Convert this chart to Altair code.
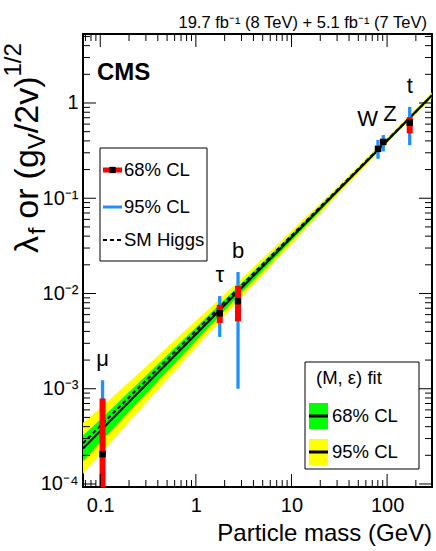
import altair as alt
import pandas as pd

# ---------------- data ----------------
particles = ["μ", "τ", "b", "W", "Z", "t"]
mass = [0.1057, 1.777, 2.76, 80.4, 91.19, 172.5]
coupling = [2.06e-4, 6.2e-3, 8.3e-3, 0.33, 0.39, 0.62]
cl68_lo = [1e-5, 4.9e-3, 5.1e-3, 0.315, 0.37, 0.48]
cl68_hi = [7.9e-4, 7.6e-3, 1.2e-2, 0.345, 0.41, 0.71]
cl95_lo = [1e-5, 3.5e-3, 1.0e-3, 0.26, 0.31, 0.36]
cl95_hi = [1.23e-3, 9.4e-3, 1.68e-2, 0.41, 0.46, 0.91]
label_align = ["center", "center", "center", "right", "left", "center"]

band_mass = [0.066, 0.1, 0.3, 1, 3, 10, 30, 100, 295]
fit_central = [2.36e-4, 3.60e-4, 1.10e-3, 3.73e-3, 1.140e-2, 3.87e-2, 0.1182, 0.4016, 1.205]
fit68_lo = [1.73e-4, 2.74e-4, 8.84e-4, 3.18e-3, 1.016e-2, 3.57e-2, 0.1124, 0.388, 1.164]
fit68_hi = [3.22e-4, 4.75e-4, 1.368e-3, 4.39e-3, 1.279e-2, 4.20e-2, 0.1244, 0.4157, 1.248]
fit95_lo = [1.27e-4, 2.07e-4, 7.10e-4, 2.705e-3, 9.06e-3, 3.30e-2, 0.1066, 0.375, 1.125]
fit95_hi = [4.40e-4, 6.27e-4, 1.703e-3, 5.16e-3, 1.435e-2, 4.55e-2, 0.1312, 0.4303, 1.291]

sm_mass = [0.066, 295]
sm_lambda = [2.68e-4, 1.198]

x_major = [0.1, 1, 10, 100]
y_major = [1e-4, 1e-3, 1e-2, 1e-1, 1]

# ---------------- layout ----------------
W, H = 349, 453
LEFT, TOP = 83, 34
FONT = "Liberation Sans, Arial"
BLUE = "#1e90ff"

def px(cx):
    return cx - LEFT

def py(cy):
    return cy - TOP

xscale = alt.Scale(type="log", domain=[0.066, 295], nice=False, zero=False)
yscale = alt.Scale(type="log", domain=[9.3e-5, 5.3], nice=False, zero=False)

x_axis = alt.Axis(values=x_major, ticks=False, domain=False, grid=False, title=None,
                  labelExpr="datum.value < 0.5 ? '0.1' : format(datum.value, 'd')",
                  labelFont=FONT, labelFontSize=20, labelColor="black", labelPadding=8,
                  labelFlush=False)
y_axis = alt.Axis(values=y_major, ticks=False, domain=False, grid=False, title=None,
                  labelExpr="datum.value > 0.5 ? '1' : datum.value > 0.05 ? '10⁻¹' : datum.value > 0.005 ? '10⁻²' : datum.value > 0.0005 ? '10⁻³' : '10⁻⁴'",
                  labelFont=FONT, labelFontSize=20, labelColor="black", labelPadding=5,
                  labelFlush=False)

band = pd.DataFrame({"m": band_mass, "c": fit_central, "g_lo": fit68_lo, "g_hi": fit68_hi,
                     "y_lo": fit95_lo, "y_hi": fit95_hi})
pts = pd.DataFrame({"p": particles, "m": mass, "v": coupling, "r_lo": cl68_lo, "r_hi": cl68_hi,
                    "b_lo": cl95_lo, "b_hi": cl95_hi, "al": label_align})
sm = pd.DataFrame({"m": sm_mass, "v": sm_lambda})
one = pd.DataFrame({"a": [0]})

def X(field):
    return alt.X(field, type="quantitative", scale=xscale, axis=x_axis)

def Y(field):
    return alt.Y(field, type="quantitative", scale=yscale, axis=y_axis)

yellow = alt.Chart(band).mark_area(color="#ffff00", clip=True, opacity=1).encode(
    x=X("m"), y=Y("y_lo"), y2="y_hi")
green = alt.Chart(band).mark_area(color="#00ff00", clip=True, opacity=1).encode(
    x=X("m"), y=Y("g_lo"), y2="g_hi")
fitline = alt.Chart(band).mark_line(color="black", strokeWidth=2, clip=True).encode(
    x=X("m"), y=Y("c"))
smline = alt.Chart(sm).mark_line(color="black", strokeWidth=2, strokeDash=[4, 3], clip=True).encode(
    x=X("m"), y=Y("v"))
blue = alt.Chart(pts).mark_rule(color=BLUE, strokeWidth=3.3, clip=True).encode(
    x=X("m"), y=Y("b_lo"), y2="b_hi")
red = alt.Chart(pts).mark_rule(color="#ff0000", strokeWidth=6, clip=True).encode(
    x=X("m"), y=Y("r_lo"), y2="r_hi")
sq = alt.Chart(pts).mark_square(color="black", size=42, opacity=1, clip=True).encode(
    x=X("m"), y=Y("v"))

label_layers = []
for al in ["center", "right", "left"]:
    label_layers.append(
        alt.Chart(pts).transform_filter(alt.datum.al == al).mark_text(
            font=FONT, fontSize=22, color="black", align=al, baseline="bottom", dy=-9
        ).encode(x=X("m"), y=Y("b_hi"), text="p:N"))

# inward ticks on all four sides
def ticks(vals, channel, side, length):
    df = pd.DataFrame({"v": vals})
    base = alt.Chart(df).mark_rule(color="black", strokeWidth=1)
    if channel == "x":
        if side == "bottom":
            return base.encode(x=X("v"), y=alt.value(H), y2=alt.value(H - length))
        return base.encode(x=X("v"), y=alt.value(0), y2=alt.value(length))
    if side == "left":
        return base.encode(y=Y("v"), x=alt.value(0), x2=alt.value(length))
    return base.encode(y=Y("v"), x=alt.value(W), x2=alt.value(W - length))

x_minor = [k * d for d in [0.01, 0.1, 1, 10, 100] for k in range(2, 10)
           if 0.066 < k * d < 295 and k * d not in x_major]
y_minor = [k * d for d in [1e-5, 1e-4, 1e-3, 1e-2, 1e-1, 1] for k in range(2, 10)
           if 9.3e-5 < k * d < 5.3]
tick_layers = []
for side in ["bottom", "top"]:
    tick_layers.append(ticks(x_major, "x", side, 13))
    tick_layers.append(ticks(x_minor, "x", side, 7))
for side in ["left", "right"]:
    tick_layers.append(ticks(y_major, "y", side, 13))
    tick_layers.append(ticks(y_minor, "y", side, 7))

# ---------------- annotations ----------------
def text(t, x, y, size, align="left", baseline="alphabetic", weight="normal", angle=0):
    kw = dict(font=FONT, fontSize=size, align=align, baseline=baseline, fontWeight=weight, color="black")
    if angle:
        kw["angle"] = angle
    return alt.Chart(one).mark_text(**kw).encode(x=alt.value(x), y=alt.value(y), text=alt.value(t))

def rule(x1, x2, y, color, width, dash=None):
    kw = dict(color=color, strokeWidth=width)
    if dash:
        kw["strokeDash"] = dash
    return alt.Chart(one).mark_rule(**kw).encode(x=alt.value(x1), x2=alt.value(x2), y=alt.value(y))

def box(x1, x2, y1, y2, fill, stroke=None):
    kw = dict(fill=fill, opacity=1)
    if stroke:
        kw.update(stroke=stroke, strokeWidth=1)
    return alt.Chart(one).mark_rect(**kw).encode(
        x=alt.value(x1), x2=alt.value(x2), y=alt.value(y1), y2=alt.value(y2))

ann = []
ann.append(text("CMS", px(97), py(80), 24, weight="bold"))
ann.append(text("19.7 fb⁻¹ (8 TeV) +  5.1 fb⁻¹ (7 TeV)", px(427), py(28), 16.5, align="right"))
ann.append(text("Particle mass (GeV)", W, py(541), 24, align="right"))

# legend 1
LG = 18.5
ann.append(box(px(100), px(207), py(148), py(261), "white", "black"))
ann.append(rule(px(103), px(122), py(170), "#ff0000", 5))
ann.append(alt.Chart(one).mark_square(color="black", size=40, opacity=1).encode(
    x=alt.value(px(112.5)), y=alt.value(py(170))))
ann.append(text("68% CL", px(124), py(170), LG, baseline="middle"))
ann.append(rule(px(103), px(122), py(207), BLUE, 3))
ann.append(text("95% CL", px(124), py(207), LG, baseline="middle"))
ann.append(rule(px(103), px(123), py(240), "black", 2, [4, 3]))
ann.append(text("SM Higgs", px(124), py(240), LG, baseline="middle"))

# legend 2
ann.append(box(px(305), px(419), py(362), py(469), "white", "black"))
ann.append(text("(M, ε) fit", px(316), py(378), LG, baseline="middle"))
ann.append(box(px(309), px(328), py(403), py(429), "#00ff00"))
ann.append(rule(px(309), px(328), py(416), "black", 3))
ann.append(text("68% CL", px(332), py(416), LG, baseline="middle"))
ann.append(box(px(309), px(328), py(439), py(465), "#ffff00"))
ann.append(rule(px(309), px(328), py(452), "black", 3))
ann.append(text("95% CL", px(332), py(452), LG, baseline="middle"))

# rotated y-axis title: λ_f or (g_V/2v)^1/2  (pieces placed along the text direction)
EM = {"λ": 0.55, "f": 0.278, " ": 0.278, "o": 0.556, "r": 0.333, "(": 0.333, "g": 0.556,
      "V": 0.667, "/": 0.278, "2": 0.556, "v": 0.5, ")": 0.333, "1": 0.556}
# (text, font size, baseline shift, gap before in px)
pieces = [("λ", 34, 0, 0), ("f", 24, 7, 0), ("or", 34, 0, 9), ("(g", 34, 0, 9),
          ("V", 24, 7, 0), ("/2v)", 34, 0, 0), ("1/2", 24, -17, 0)]
base_x = px(38)
ycur = py(253)
for s, size, shift, gap in pieces:
    ycur -= gap
    ann.append(text(s, base_x + shift, ycur, size, angle=270))
    ycur -= sum(EM[c] for c in s) * size

chart = alt.layer(yellow, green, fitline, smline, blue, red, sq, *label_layers, *tick_layers, *ann).properties(
    width=W, height=H,
    autosize=alt.AutoSizeParams(type="none"),
    padding={"left": LEFT, "top": TOP, "right": 436 - LEFT - W, "bottom": 551 - TOP - H},
    background="white",
).configure_view(stroke="black", strokeWidth=2)

chart.save("out.html", embed_options={"renderer": "svg", "actions": False})
